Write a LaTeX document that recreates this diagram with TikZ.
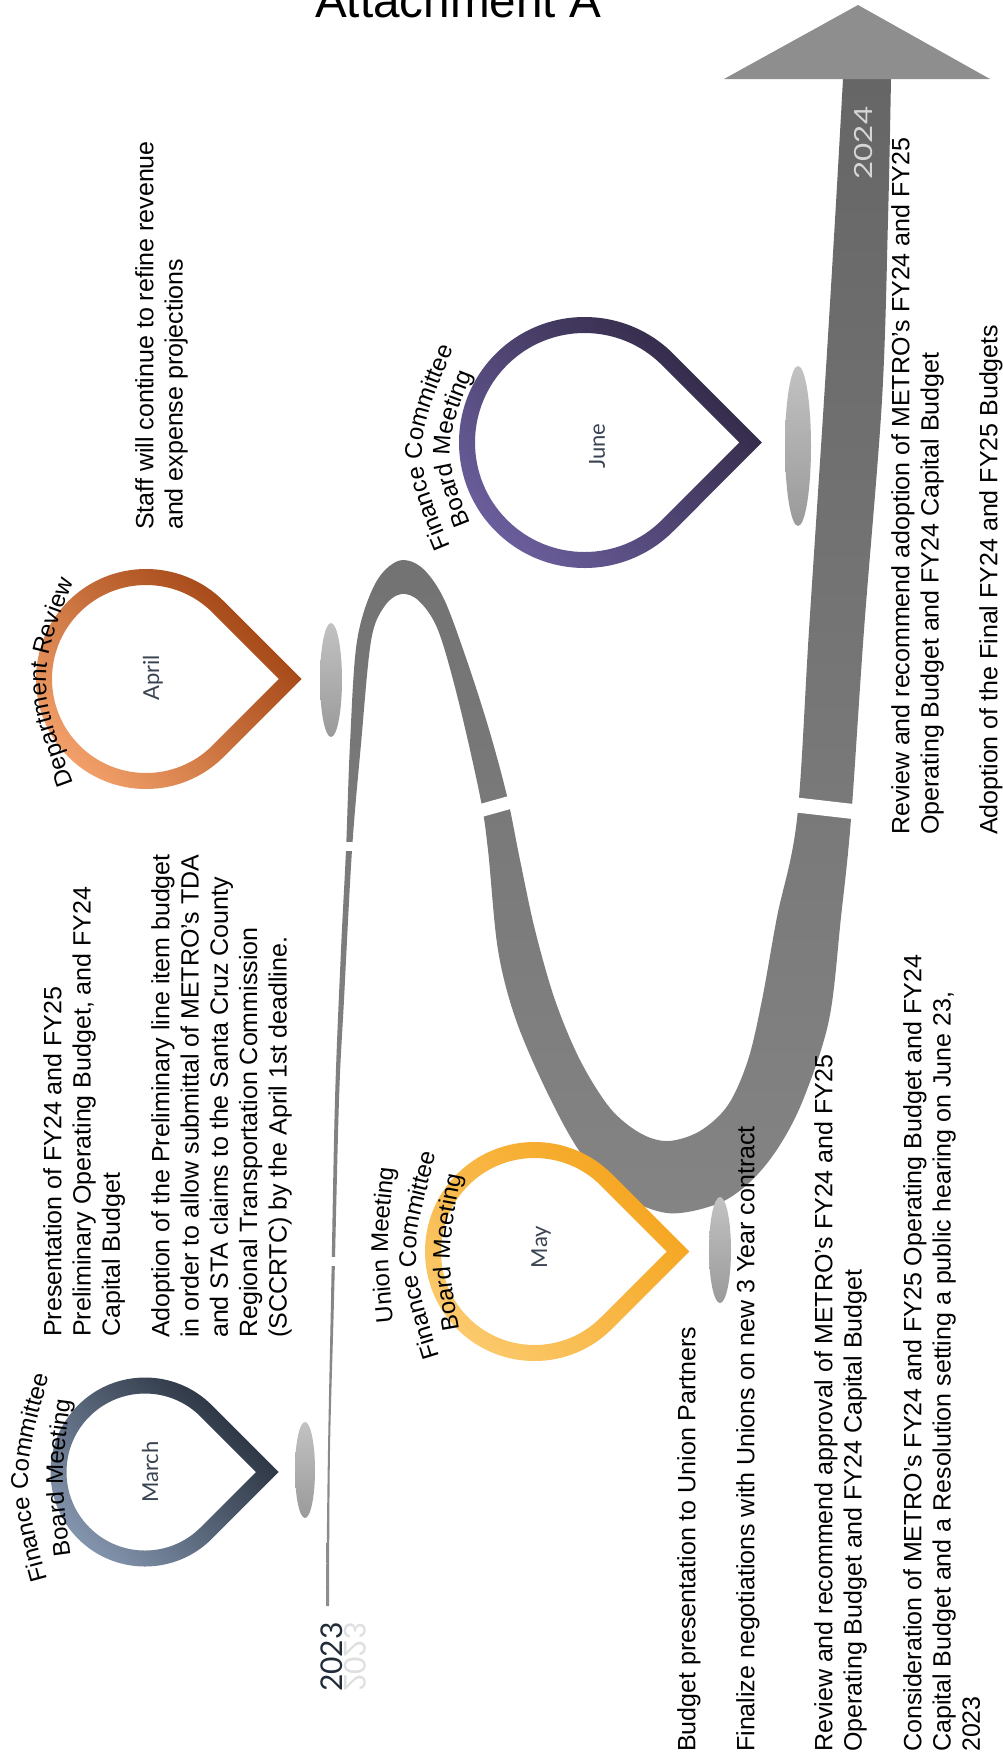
\documentclass[tikz,border=0pt]{standalone}
\usepackage{fontspec}
\usepackage{graphicx}
\setmainfont{Liberation Sans}
\newfontfamily\monthfont{Lato}
\usetikzlibrary{decorations.text}
\definecolor{marchlight}{HTML}{8597B0}
\definecolor{marchdark}{HTML}{232B38}
\definecolor{aprillight}{HTML}{F4A26C}
\definecolor{aprildark}{HTML}{9C3F0E}
\definecolor{maylight}{HTML}{FBCA6E}
\definecolor{maydark}{HTML}{F5A31A}
\definecolor{junelight}{HTML}{6C5F9E}
\definecolor{junedark}{HTML}{2F2742}
\definecolor{ribbontop}{HTML}{666666}
\definecolor{ribbonmid}{HTML}{7E7E7E}
\definecolor{ribbonbot}{HTML}{8E8E8E}
\definecolor{headgrey}{HTML}{8E8E8E}
\definecolor{shadowtop}{HTML}{C2C2C2}
\definecolor{shadowbot}{HTML}{9A9A9A}
\definecolor{monthgrey}{HTML}{3A4352}
\definecolor{yeargrey}{HTML}{222B38}
\definecolor{yearlight}{HTML}{D6D6D6}
\newcommand{\descfont}{\fontsize{25}{29.3}\selectfont}
\newcommand{\archfont}{\fontsize{24}{26}\selectfont}
\tikzset{
  desctext/.style={rotate=90, anchor=north west, inner sep=0pt,
    align=left, font=\descfont},
  monthlabel/.style={rotate=90, inner sep=0pt, text=monthgrey,
    font=\monthfont\fontsize{22}{24}\selectfont},
  yearlabel/.style={rotate=90, inner sep=0pt,
    font=\monthfont\fontsize{30}{32}\selectfont},
  archlabel/.style={decorate, decoration={text along path,
    text align=center, text={|\archfont|#1}}},
  shadowdot/.style={top color=shadowtop, bottom color=shadowbot},
  cutmark/.style={draw=white, line width=#1},
  cutmark/.default=10,
}
% teardrop ring: centre x, centre y, radius, light, dark
\newcommand{\drawpin}[5]{%
  \shade[even odd rule, top color=#5, bottom color=#4, shading angle=-45]
    (#1,#2) ++(45:#3) arc[start angle=45, end angle=315, radius=#3]
      -- ({#1+1.4142*#3},#2) -- cycle
    (#1,#2) ++(45:{#3-16}) arc[start angle=45, end angle=315, radius={#3-16}]
      -- ({#1+1.4142*(#3-16)},#2) -- cycle;
}
\begin{document}
\begin{tikzpicture}[x=1pt, y=-1pt]
\useasboundingbox (0,0) rectangle (1003,1762);
\fill[white] (0,0) rectangle (1003,1762);

% Title
\node[anchor=base, font=\fontsize{47.6}{50}\selectfont] (title) at (458,17) {Attachment A};

% Timeline ribbon
\shade[top color=ribbontop, middle color=ribbonmid, bottom color=ribbonbot]
  plot[smooth, tension=.55] coordinates {(326,1606) (328,1450) (331,1300)
    (335,1100) (341,950) (346,850) (350,744) (357,641) (375,584) (398,561)
    (421,567) (443,597) (465,655) (488,726) (507,796) (520,860) (535,930)
    (555,1000) (580,1060) (610,1108) (640,1133) (668,1141) (700,1131)
    (728,1105) (748,1060) (762,1000) (777,917) (797,819) (809,630)
    (824,400) (835,220) (843,79)}
  -- plot[smooth, tension=.55] coordinates {(891,79) (888,220) (882,400)
    (864,630) (851,819) (841,917) (829,1020) (803,1100) (778,1148)
    (750,1182) (717,1204) (667,1213) (617,1192) (580,1152) (547,1092)
    (516,1020) (498,950) (488,850) (480,796) (458,699) (438,630) (419,601)
    (401,594) (384,607) (371,641) (361,744) (352,850) (344,1000) (339,1100)
    (334,1300) (330,1450) (329,1606)}
  -- cycle;
\fill[headgrey] (724,79) -- (858,5) -- (990,79) -- cycle;

% Month cuts
\draw[cutmark=9] (318,1261) -- (348,1261);
\draw[cutmark=9] (336,846) -- (366,846);
\draw[cutmark=13] (472,813) -- (522,799);
\draw[cutmark=15] (788,804) -- (866,813);

% Shadows under the pins
\shade[shadowdot] (305,1470) ellipse [x radius=10, y radius=48];
\shade[shadowdot] (331,680) ellipse [x radius=11, y radius=57];
\shade[shadowdot] (720,1250) ellipse [x radius=11, y radius=53];
\shade[shadowdot] (798,446) ellipse [x radius=13, y radius=80];

% Pins
\drawpin{145}{1472}{94.5}{marchlight}{marchdark}
\drawpin{146}{679}{110}{aprillight}{aprildark}
\drawpin{534.5}{1251.5}{109.5}{maylight}{maydark}
\drawpin{584.5}{442.5}{125.5}{junelight}{junedark}

\node[monthlabel] (march) at (150,1472) {March};
\node[monthlabel] (april) at (153,678) {April};
\node[monthlabel] (may) at (541,1247) {May};
\node[monthlabel] (june) at (597,446) {June};

% Arched meeting labels
\path[archlabel={Finance Committee}] (50,1590) .. controls (20.3,1480.8) .. (52,1365);
\path[archlabel={Board Meeting}] (72,1565) .. controls (60,1478.2) .. (72,1390);
\path[archlabel={Department Review}] (78,795) .. controls (35.3,679.2) .. (78,570);
\path[archlabel={Union Meeting}] (394,1330) .. controls (385.8,1245) .. (395,1160);
\path[archlabel={Finance Committee}] (441,1362) .. controls (408.2,1256.3) .. (438,1148);
\path[archlabel={Board Meeting}] (460,1335) .. controls (446.2,1255.8) .. (463,1170);
\path[archlabel={Finance Committee}] (454,555) .. controls (410.8,450.8) .. (457,340);
\path[archlabel={Board Meeting}] (475,535) .. controls (441.3,450.5) .. (477,362);

% Years
\node[yearlabel, anchor=base, text=yeargrey] (y2023) at (342,1657) {2023};
\node[yearlabel, anchor=base, text=yeargrey, yscale=-1, opacity=.15] (y2023mirror) at (344,1657) {2023};
\node[yearlabel, text=yearlight, font=\monthfont\fontsize{25}{27}\selectfont] (y2024) at (864,143) {\scalebox{1.25}[1]{2024}};

% Descriptions
\node[desctext] (presentation) at (43,1337) {Presentation of FY24 and FY25\\Preliminary Operating Budget, and FY24\\Capital Budget};
\node[desctext] (prelimadopt) at (151,1338) {Adoption of the Preliminary line item budget\\in order to allow submittal of METRO's  TDA\\and STA claims to the Santa Cruz County\\Regional Transportation Commission\\(SCCRTC) by the April 1st deadline.};
\node[desctext] (staff) at (135,530) {Staff will continue to refine revenue\\and expense projections};
\node[desctext] (unionpres) at (677,1752) {Budget presentation to Union Partners};
\node[desctext] (negotiate) at (736,1752) {Finalize negotiations with Unions on new 3 Year contract};
\node[desctext] (approval) at (814,1752) {Review and recommend approval of METRO's FY24 and FY25\\Operating Budget and FY24 Capital Budget};
\node[desctext] (hearing) at (903,1752) {Consideration of METRO's FY24 and FY25 Operating Budget and FY24\\Capital Budget and a Resolution setting a public hearing on June 23,\\2023};
\node[desctext] (recommend) at (891,835) {Review and recommend adoption of METRO's FY24 and FY25\\Operating Budget and FY24 Capital Budget};
\node[desctext] (final) at (979,835) {Adoption of the Final FY24 and FY25 Budgets};

\end{tikzpicture}
\end{document}
